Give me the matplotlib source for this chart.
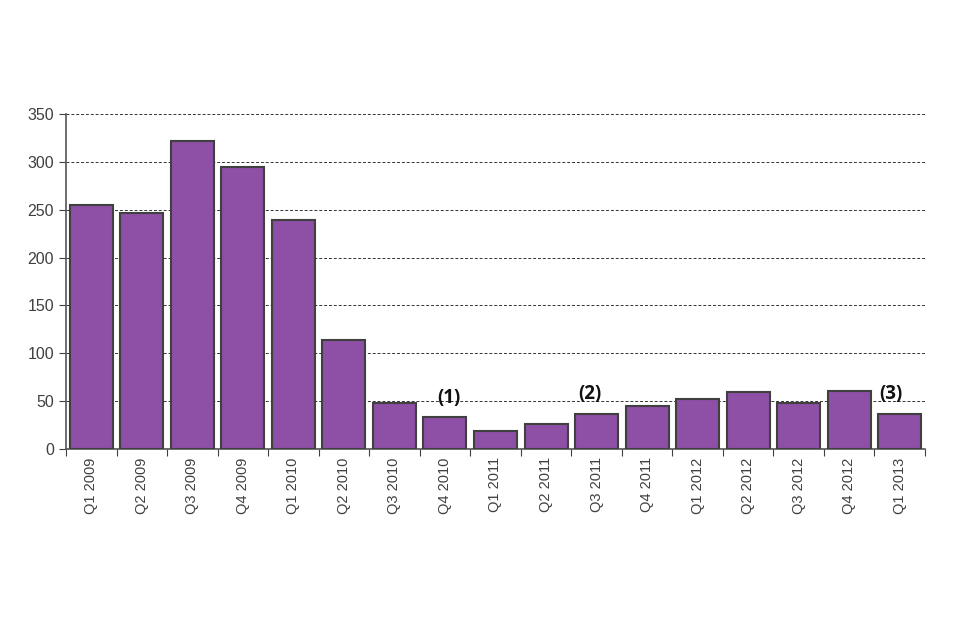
import matplotlib
matplotlib.use("Agg")
import matplotlib.pyplot as plt
import numpy as np

categories = ["Q1 2009", "Q2 2009", "Q3 2009", "Q4 2009", "Q1 2010", "Q2 2010",
              "Q3 2010", "Q4 2010", "Q1 2011", "Q2 2011", "Q3 2011", "Q4 2011",
              "Q1 2012", "Q2 2012", "Q3 2012", "Q4 2012", "Q1 2013"]
values = [255, 247, 322, 295, 239, 114, 48, 33, 19, 26, 37, 45, 52, 60, 48, 61, 37]
note_index = [7, 10, 16]
note_text = ["(1)", "(2)", "(3)"]
yticks = [0, 50, 100, 150, 200, 250, 300, 350]

plt.rcParams['font.family'] = ['Liberation Sans', 'DejaVu Sans']
fig = plt.figure(figsize=(9.6, 6.4), dpi=100)
ax = fig.add_axes([66/960, 1-449/640, (925-66)/960, (449-114)/640])

x = np.arange(len(categories))
ax.bar(x, values, width=0.85, color="#8E4FA6", edgecolor="#404040", linewidth=1.5, zorder=3)

ax.set_ylim(0, 350)
ax.set_xlim(-0.5, len(categories)-0.5)
ax.set_yticks(yticks)
ax.yaxis.grid(True, linestyle=(0, (3, 2)), color="#333333", linewidth=0.7, zorder=0)
ax.set_axisbelow(True)

ax.set_xticks(np.arange(len(categories)+1)-0.5, minor=False)
ax.set_xticklabels([])
ax.set_xticks(x, minor=True)
ax.set_xticklabels(categories, minor=True, rotation=90, fontsize=10.5, color="#404040")
ax.tick_params(axis='x', which='minor', length=0, pad=6)
ax.tick_params(axis='x', which='major', length=5, color="#404040", direction='out')
ax.tick_params(axis='y', labelsize=11.5, labelcolor="#404040", length=5, color="#404040")

for s in ["top", "right"]:
    ax.spines[s].set_visible(False)
for s in ["left", "bottom"]:
    ax.spines[s].set_color("#555555")
    ax.spines[s].set_linewidth(1.2)

offsets = [(4, 9), (-7, 10), (-9, 10)]
for i, t, off in zip(note_index, note_text, offsets):
    ax.annotate(t, (x[i], values[i]), xytext=off, textcoords="offset pixels",
                ha="center", va="bottom", fontsize=13.5, fontweight="bold",
                family=["Open Sans", "DejaVu Sans"], color="#111111", zorder=4)

fig.savefig("out.png", dpi=100)
